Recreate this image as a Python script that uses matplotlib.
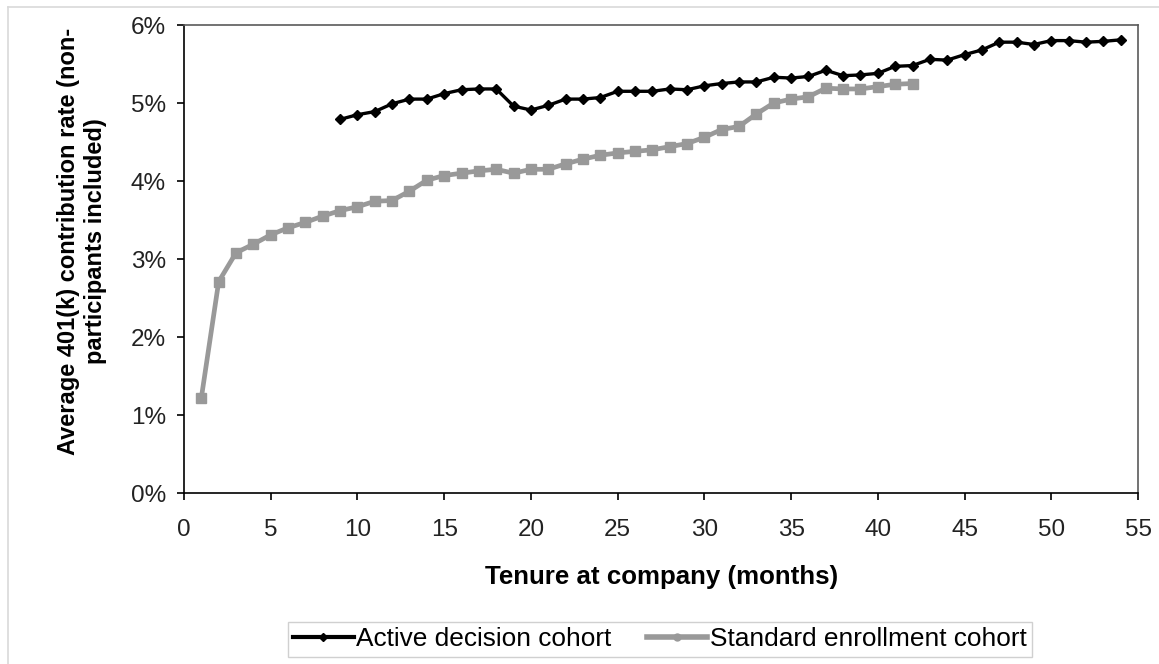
import matplotlib
matplotlib.use("Agg")
import matplotlib.pyplot as plt
from matplotlib.lines import Line2D

plt.rcParams['font.family'] = ['Liberation Sans', 'DejaVu Sans']

# ---- data ----
active_months = list(range(9, 55))
active_rate = [4.79, 4.85, 4.89, 4.99, 5.05, 5.05, 5.12, 5.17, 5.18, 5.18,
               4.96, 4.91, 4.97, 5.05, 5.05, 5.07, 5.15, 5.15, 5.15, 5.18,
               5.17, 5.22, 5.25, 5.27, 5.27, 5.33, 5.32, 5.34, 5.42, 5.35,
               5.36, 5.38, 5.47, 5.48, 5.56, 5.55, 5.62, 5.68, 5.78, 5.78,
               5.75, 5.80, 5.80, 5.78, 5.79, 5.81]

standard_months = list(range(1, 43))
standard_rate = [1.22, 2.71, 3.08, 3.19, 3.31, 3.40, 3.47, 3.55, 3.62, 3.67,
                 3.74, 3.75, 3.87, 4.01, 4.07, 4.10, 4.13, 4.15, 4.10, 4.15,
                 4.15, 4.22, 4.28, 4.33, 4.36, 4.38, 4.40, 4.44, 4.48, 4.56,
                 4.66, 4.70, 4.86, 5.00, 5.05, 5.08, 5.19, 5.18, 5.18, 5.21,
                 5.24, 5.25]

x_ticks = list(range(0, 60, 5))
y_ticks = [0, 1, 2, 3, 4, 5, 6]
y_tick_labels = [f"{v}%" for v in y_ticks]

series_names = ["Active decision cohort", "Standard enrollment cohort"]
x_title = "Tenure at company (months)"
y_title = "Average 401(k) contribution rate (non-\nparticipants included)"

W, H = 1159, 664
fig = plt.figure(figsize=(W / 100, H / 100), dpi=100)
ax = fig.add_axes([184 / W, 1 - 493 / H, (1138 - 184) / W, (493 - 25) / H])

gray = '#999999'
ax.plot(standard_months, standard_rate, color=gray, lw=3.4, marker='s',
        ms=7.2, mfc=gray, mec=gray, label=series_names[1], zorder=3)
ax.plot(active_months, active_rate, color='black', lw=2.4, marker='D',
        ms=5.5, mfc='black', mec='black', label=series_names[0], zorder=4)

ax.set_xlim(0, 55)
ax.set_ylim(0, 6)
ax.set_xticks(x_ticks)
ax.set_yticks(y_ticks)
ax.set_yticklabels(y_tick_labels)

for s in ['left', 'bottom']:
    ax.spines[s].set_color('black')
    ax.spines[s].set_linewidth(1.2)
for s in ['top', 'right']:
    ax.spines[s].set_color('#5a5a5a')
    ax.spines[s].set_linewidth(1.2)

ax.tick_params(axis='both', direction='out', length=5, width=1.2,
               labelsize=17.5, labelcolor='#222222', color='black')
ax.tick_params(axis='y', pad=8)
ax.tick_params(axis='x', pad=14)

fig.text(662 / W, 1 - 577 / H, x_title, ha='center', va='center',
         fontsize=18.6, fontweight='bold', color='black')
fig.text(82 / W, 1 - 241 / H, y_title, ha='center', va='center',
         rotation=90, multialignment='center', fontsize=17,
         fontweight='bold', color='black', linespacing=1.25)

handles = [
    Line2D([], [], color='black', lw=3, marker='D', ms=4.5),
    Line2D([], [], color=gray, lw=4, marker='o', ms=5),
]
leg = fig.legend(handles, series_names, loc='center',
                 bbox_to_anchor=(660 / W, 1 - 639.5 / H), ncol=2,
                 fontsize=18.9, frameon=True, fancybox=False,
                 edgecolor='#d0d0d0', handlelength=2.3, handletextpad=0.1,
                 columnspacing=1.35, borderpad=0.2, framealpha=1)
leg.get_frame().set_linewidth(1.0)

# outer chart border (light gray, top and left visible)
fig.add_artist(Line2D([8 / W, 1.0], [1 - 7 / H, 1 - 7 / H],
                      transform=fig.transFigure, color='#d9d9d9', lw=1.2))
fig.add_artist(Line2D([8 / W, 8 / W], [0.0, 1 - 7 / H],
                      transform=fig.transFigure, color='#d9d9d9', lw=1.2))

fig.savefig('out.png', dpi=100, facecolor='white')
